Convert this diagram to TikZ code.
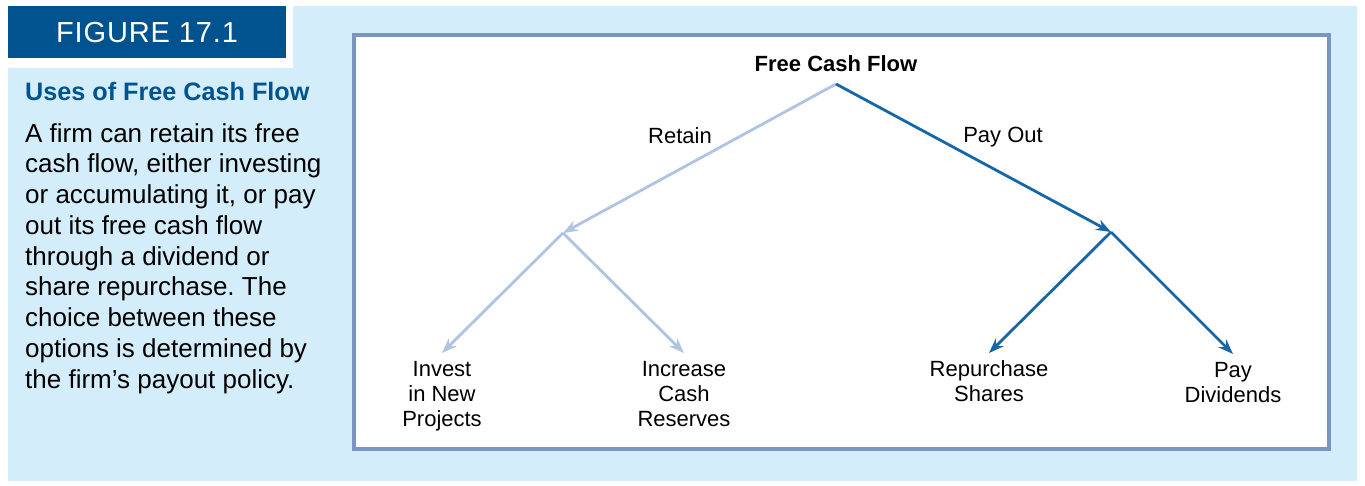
\documentclass[tikz,border=0pt]{standalone}
\usepackage{fontspec}
\setmainfont{Liberation Sans}
\usetikzlibrary{arrows.meta}
\definecolor{panelblue}{HTML}{D3EEFA}
\definecolor{headblue}{HTML}{01538F}
\definecolor{frameblue}{HTML}{7896C2}
\definecolor{paleline}{HTML}{AFC3E2}
\definecolor{deepline}{HTML}{1766A8}
\tikzset{
  branch/.style={line width=2.8pt, -{Stealth[length=15pt, width=11pt, inset=5pt]}},
  leaf/.style={align=center, anchor=north, inner sep=0pt, outer sep=8pt,
    font=\fontsize{22}{25}\selectfont},
  label/.style={anchor=base, inner sep=0pt, font=\fontsize{22}{26}\selectfont}
}
\frenchspacing
\begin{document}
\begin{tikzpicture}[x=1pt, y=-1pt]
                \useasboundingbox (0,0) rectangle (1365,485);
                \fill[panelblue] (8,6) rectangle (1357,481);
                \fill[white] (8,6) rectangle (293,68);
                \fill[headblue] (8,6) rectangle (286,58);
                \node[anchor=base, text=white, inner sep=0pt,
                    font=\fontsize{29}{34}\selectfont\addfontfeatures{LetterSpace=3}] (fig) at (147,42) {FIGURE 17.1};
                \node[anchor=base west, text=headblue, inner sep=0pt,
                    font=\fontsize{25.2}{30}\selectfont\bfseries] (title) at (25,100) {Uses of Free Cash Flow};
                \foreach \line [count=\i] in {A firm can retain its free, {cash flow, either investing},
                        {or accumulating it, or pay}, out its free cash flow, through a dividend or,
                        share repurchase. The, choice between these, options is determined by,
                        the firm’s payout policy.} {
                            \node[anchor=base west, inner sep=0pt, font=\fontsize{26}{30}\selectfont]
                                (line\i) at (25,{142+30.75*(\i-1)}) {\line};
                        }
                \draw[frameblue, line width=4pt, fill=white] (354,35) rectangle (1329,449);
                \node[anchor=south, inner sep=0pt, outer sep=12pt,
                    font=\fontsize{22}{26}\selectfont\bfseries] (fcf) at (836,84) {Free Cash Flow};
                \coordinate (retain) at (563,233);
                \coordinate (payout) at (1111,232);
                \node[leaf] (invest) at (442,353) {Invest\\in New\\Projects};
                \node[leaf] (reserves) at (684,353) {Increase\\Cash\\Reserves};
                \node[leaf] (shares) at (989,353) {Repurchase\\Shares};
                \node[leaf] (dividends) at (1233,354) {Pay\\Dividends};
                \node[label] (retainlabel) at (680,143) {Retain};
                \node[label] (payoutlabel) at (1003,142) {Pay Out};
                \draw[branch, paleline] (fcf.south) -- (retain);
                \draw[branch, deepline] (fcf.south) -- (payout);
                \foreach \leaf in {invest, reserves} {
                        \draw[branch, paleline] (retain) -- (\leaf.north);
                    }
                \foreach \leaf in {shares, dividends} {
                        \draw[branch, deepline] (payout) -- (\leaf.north);
                    }
        \end{tikzpicture}
\end{document}
